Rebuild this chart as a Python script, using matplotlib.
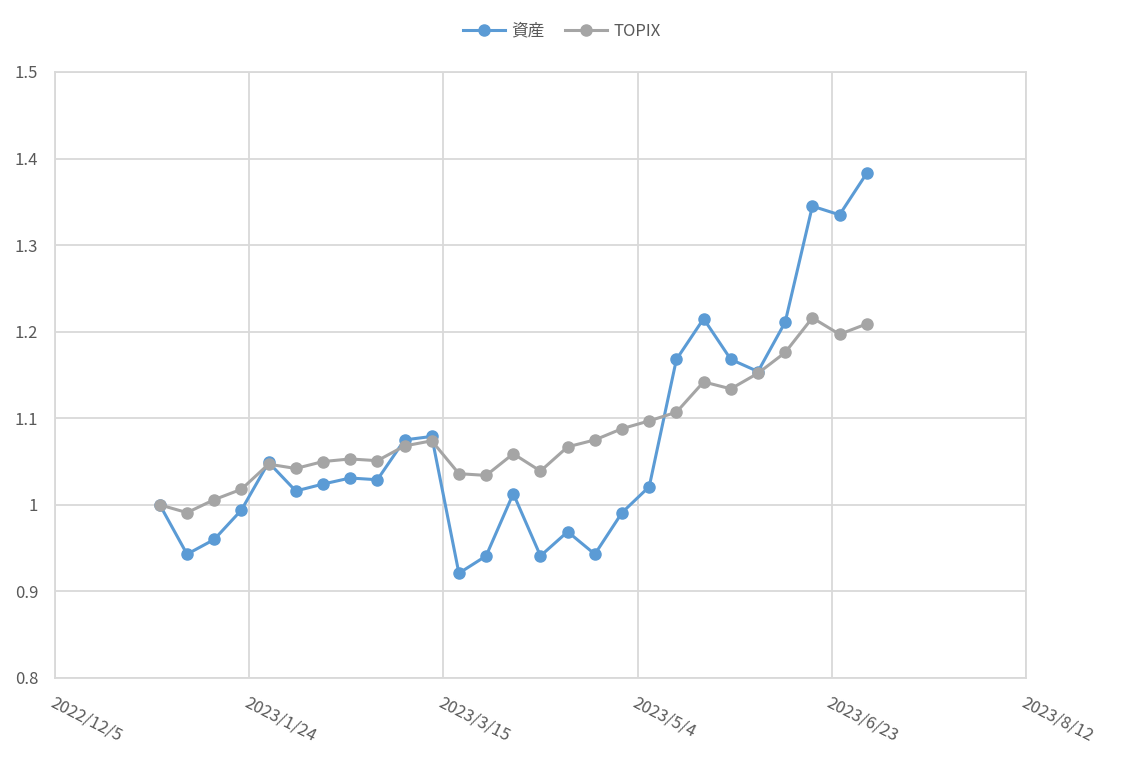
import matplotlib
matplotlib.use('Agg')
import matplotlib.pyplot as plt
import matplotlib.dates as mdates
import matplotlib.ticker as ticker
import numpy as np
import datetime as dt

plt.rcParams['font.family'] = ['Noto Sans CJK JP', 'DejaVu Sans']

# --- data (weekly, from 2023/1/1) ---
start = dt.date(2023, 1, 1)
n_weeks = 27
dates = [start + dt.timedelta(weeks=i) for i in range(n_weeks)]

asset = [1.000, 0.943, 0.960, 0.994, 1.049, 1.016, 1.024, 1.031, 1.029,
         1.075, 1.079, 0.921, 0.941, 1.013, 0.941, 0.969, 0.943, 0.991,
         1.021, 1.168, 1.215, 1.168, 1.154, 1.211, 1.345, 1.335, 1.383]
topix = [1.000, 0.991, 1.006, 1.018, 1.047, 1.042, 1.050, 1.053, 1.051,
         1.068, 1.074, 1.036, 1.034, 1.059, 1.039, 1.067, 1.075, 1.088,
         1.097, 1.107, 1.142, 1.134, 1.152, 1.176, 1.216, 1.197, 1.209]

x_min = dt.date(2022, 12, 5)
x_max = dt.date(2023, 8, 12)
x_ticks = [x_min + dt.timedelta(days=50 * i) for i in range(6)]
y_ticks = [0.8, 0.9, 1.0, 1.1, 1.2, 1.3, 1.4, 1.5]
y_labels = ['0.8', '0.9', '1', '1.1', '1.2', '1.3', '1.4', '1.5']

C_ASSET = '#5B9BD5'
C_TOPIX = '#A5A5A5'
C_GRID = '#D9D9D9'
C_TEXT = '#595959'

fig = plt.figure(figsize=(11.24, 7.6), dpi=100)
ax = fig.add_axes([0.0489, 0.1079, 0.8639, 0.7974])

ax.plot(dates, asset, '-o', color=C_ASSET, lw=2.2, markersize=8, label='資産', zorder=3)
ax.plot(dates, topix, '-o', color=C_TOPIX, lw=2.2, markersize=8, label='TOPIX', zorder=3)

ax.set_xlim(mdates.date2num(x_min), mdates.date2num(x_max))
ax.set_ylim(0.8, 1.5)
ax.set_xticks([mdates.date2num(d) for d in x_ticks])
ax.set_xticklabels([f'{d.year}/{d.month}/{d.day}' for d in x_ticks],
                   rotation=-27, ha='left', va='top', rotation_mode='anchor')
ax.set_yticks(y_ticks)
ax.set_yticklabels(y_labels)
ax.tick_params(length=0, colors=C_TEXT, labelsize=12)
ax.tick_params(axis='x', pad=12)
ax.tick_params(axis='y', pad=12)

ax.grid(True, color=C_GRID, linewidth=1.3, zorder=0)
ax.set_axisbelow(True)
for s in ax.spines.values():
    s.set_color(C_GRID)
    s.set_linewidth(1.3)

leg = fig.legend(loc='center', bbox_to_anchor=(0.5, 0.959), ncol=2, frameon=False,
                 fontsize=12, handlelength=2.5, columnspacing=1.2, handletextpad=0.4)
for t in leg.get_texts():
    t.set_color(C_TEXT)

fig.savefig('out.png', dpi=100)
